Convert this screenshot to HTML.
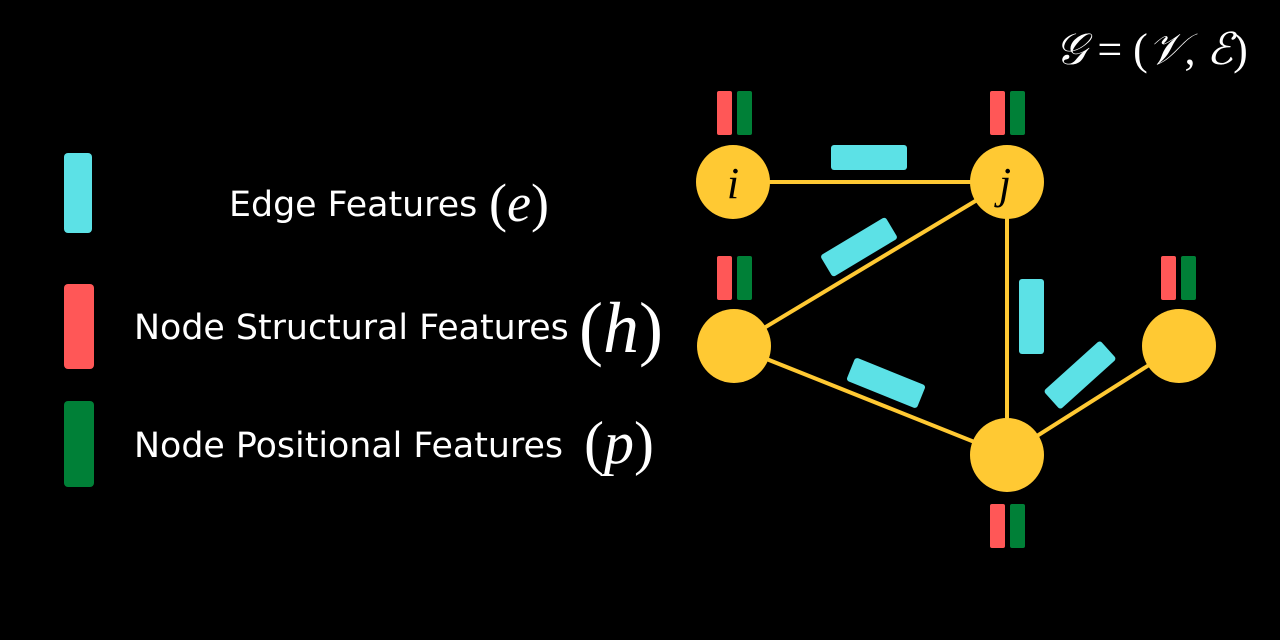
<!DOCTYPE html>
<html><head><meta charset="utf-8"><style>
html,body{margin:0;padding:0;background:#000;}
svg{display:block}
.sans{font-family:"DejaVu Sans","Liberation Sans",sans-serif;fill:#fff}
.math{font-family:"Liberation Serif",serif;font-style:italic;fill:#fff}
.paren{font-family:"Liberation Serif",serif;fill:#fff}
</style></head><body>
<svg width="1280" height="640" viewBox="0 0 1280 640">
<rect width="1280" height="640" fill="#000"/>
<text x="1055" y="64" class="paren" font-size="44"><tspan font-style="italic" font-family="Liberation Serif">𝒢</tspan> = (<tspan font-style="italic">𝒱</tspan>, <tspan font-style="italic">ℰ</tspan>)</text>

<g>
<rect x="64" y="153" width="28" height="80" rx="4" fill="#5ce1e6"/>
<rect x="64" y="284" width="30" height="85" rx="4" fill="#ff5757"/>
<rect x="64" y="401" width="30" height="86" rx="4" fill="#008037"/>
<text x="229" y="216" class="sans" font-size="34.8">Edge Features</text>
<text x="489" y="221" class="paren" font-size="54">(<tspan font-style="italic">e</tspan>)</text>
<text x="134" y="339" class="sans" font-size="34.8">Node Structural Features</text>
<text x="579" y="352" class="paren" font-size="72">(<tspan font-style="italic">h</tspan>)</text>
<text x="134" y="457" class="sans" font-size="34.8">Node Positional Features</text>
<text x="584" y="463" class="paren" font-size="60">(<tspan font-style="italic">p</tspan>)</text>
</g>

<g stroke="#ffc933" stroke-width="4">
<line x1="733" y1="182" x2="1007" y2="182"/>
<line x1="1007" y1="182" x2="734" y2="346"/>
<line x1="734" y1="346" x2="1007" y2="455"/>
<line x1="1007" y1="182" x2="1007" y2="455"/>
<line x1="1007" y1="455" x2="1179" y2="346"/>
</g>

<g fill="#5ce1e6">
<rect x="831" y="145" width="76" height="25" rx="3"/>
<rect x="-38" y="-12.5" width="76" height="25" rx="3" transform="translate(859,247) rotate(-31)"/>
<rect x="-38" y="-12.5" width="76" height="25" rx="3" transform="translate(886,383) rotate(22)"/>
<rect x="1019" y="279" width="25" height="75" rx="3"/>
<rect x="-38" y="-12.5" width="76" height="25" rx="3" transform="translate(1080,375) rotate(-42)"/>
</g>

<g fill="#ffc933">
<circle cx="733" cy="182" r="37"/>
<circle cx="1007" cy="182" r="37"/>
<circle cx="734" cy="346" r="37"/>
<circle cx="1179" cy="346" r="37"/>
<circle cx="1007" cy="455" r="37"/>
</g>
<text x="733" y="198" text-anchor="middle" font-family="Liberation Serif,serif" font-style="italic" font-size="44" fill="#000">i</text>
<text x="1005" y="198" text-anchor="middle" font-family="Liberation Serif,serif" font-style="italic" font-size="44" fill="#000">j</text>

<g>
<rect x="717" y="91" width="15" height="44" rx="2" fill="#ff5757"/>
<rect x="737" y="91" width="15" height="44" rx="2" fill="#008037"/>
<rect x="990" y="91" width="15" height="44" rx="2" fill="#ff5757"/>
<rect x="1010" y="91" width="15" height="44" rx="2" fill="#008037"/>
<rect x="717" y="256" width="15" height="44" rx="2" fill="#ff5757"/>
<rect x="737" y="256" width="15" height="44" rx="2" fill="#008037"/>
<rect x="1161" y="256" width="15" height="44" rx="2" fill="#ff5757"/>
<rect x="1181" y="256" width="15" height="44" rx="2" fill="#008037"/>
<rect x="990" y="504" width="15" height="44" rx="2" fill="#ff5757"/>
<rect x="1010" y="504" width="15" height="44" rx="2" fill="#008037"/>
</g>
</svg>
</body></html>
